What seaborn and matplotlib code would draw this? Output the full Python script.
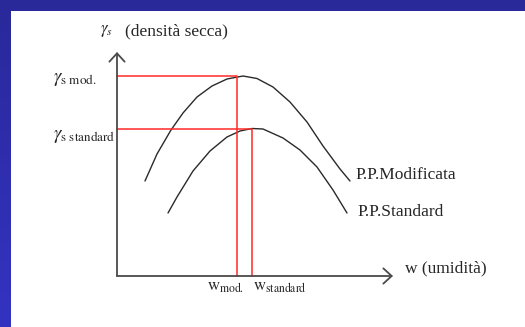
import numpy as np
import matplotlib
matplotlib.use("Agg")
import matplotlib.pyplot as plt
from matplotlib.colors import LinearSegmentedColormap
import seaborn as sns

# Compaction curves: moisture content w vs dry density gamma_s (arbitrary units)
w_modificata = [2.8, 4.0, 5.4, 6.6, 8.0, 9.5, 11.0, 12.6, 14.0, 15.6, 17.3, 19.0, 20.6, 22.3, 23.3]
g_modificata = [9.5, 12.2, 14.6, 16.3, 17.9, 19.0, 19.7, 20.0, 19.75, 18.9, 17.4, 15.4, 13.0, 10.7, 9.5]

w_standard = [5.1, 6.0, 7.6, 9.3, 11.0, 12.3, 13.5, 14.6, 16.6, 18.3, 20.0, 21.6, 23.0]
g_standard = [6.3, 7.9, 10.5, 12.5, 13.9, 14.5, 14.75, 14.7, 13.8, 12.6, 10.9, 8.6, 6.3]

# Optimum points (maximum dry density and its moisture content)
w_opt_mod, g_opt_mod = 12.0, 20.0
w_opt_std, g_opt_std = 13.5, 14.7

curve_names = ["P.P.Modificata", "P.P.Standard"]
x_label = "w (umidità)"
y_label = "(densità secca)"

sns.set_style("white")
plt.rcParams["font.family"] = ["Liberation Serif", "DejaVu Serif"]
plt.rcParams["mathtext.fontset"] = "stix"

fig = plt.figure(figsize=(5.25, 3.27), dpi=100)

# blue slide background
bg = fig.add_axes([0, 0, 1, 1])
cmap = LinearSegmentedColormap.from_list("slide", ["#29299a", "#3333c2"])
bg.imshow(np.linspace(0, 1, 256).reshape(-1, 1), aspect="auto", cmap=cmap,
          extent=[0, 1, 0, 1])
bg.set_axis_off()

# white panel holding the diagram
ax = fig.add_axes([11 / 525, 0, 514 / 525, 316 / 327])
ax.set_facecolor("white")
ax.set_xlim(-10.6, 40.8)
ax.set_ylim(-5.1, 26.5)
for s in ax.spines.values():
    s.set_visible(False)
ax.set_xticks([])
ax.set_yticks([])

curve_color = "#2a2a2a"
sns.lineplot(x=w_modificata, y=g_modificata, sort=False, color=curve_color,
             lw=1.0, ax=ax, zorder=2)
sns.lineplot(x=w_standard, y=g_standard, sort=False, color=curve_color,
             lw=1.0, ax=ax, zorder=2)

# optimum reference lines
red = "#ff2a2a"
ax.plot([0, w_opt_mod, w_opt_mod], [g_opt_mod, g_opt_mod, 0], color=red, lw=1.1, zorder=3)
ax.plot([0, w_opt_std, w_opt_std], [g_opt_std, g_opt_std, 0], color=red, lw=1.1, zorder=3)

# axes with open arrowheads
axis_color = "#4a4a4a"
arrow = dict(arrowstyle="->,head_length=0.6,head_width=0.55", color=axis_color,
             lw=1.3, shrinkA=0, shrinkB=0)
ax.annotate("", xy=(0, 22.4), xytext=(0, 0), arrowprops=arrow, zorder=4)
ax.annotate("", xy=(27.6, 0), xytext=(0, 0), arrowprops=arrow, zorder=4)

fs = 12.5
ax.text(-1.7, 24.5, r"$\gamma_{s}$", fontsize=12, ha="left", va="center")
ax.text(0.8, 24.5, y_label, fontsize=fs, ha="left", va="center")
ax.text(28.8, 0.8, x_label, fontsize=fs, ha="left", va="center")
ax.text(23.8, 10.1, curve_names[0], fontsize=fs, ha="left", va="center")
ax.text(24.0, 6.4, curve_names[1], fontsize=fs, ha="left", va="center")

ax.text(-6.4, 19.7, r"$\gamma_{\mathrm{s\ mod.}}$", fontsize=13.5, ha="left", va="center")
ax.text(-6.4, 14.0, r"$\gamma_{\mathrm{s\ standard}}$", fontsize=13.5, ha="left", va="center")
ax.text(9.0, -0.3, r"$\mathrm{w}_{\mathrm{mod.}}$", fontsize=12, ha="left", va="top")
ax.text(13.6, -0.3, r"$\mathrm{w}_{\mathrm{standard}}$", fontsize=12, ha="left", va="top")

fig.savefig("out.png", dpi=100)
